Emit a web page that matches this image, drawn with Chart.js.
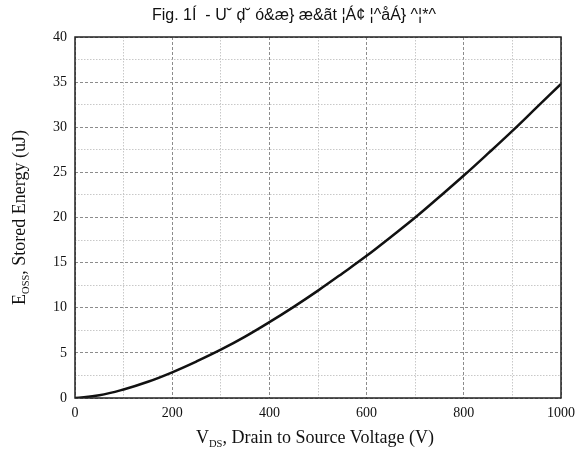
<!DOCTYPE html>
<html>
<head>
<meta charset="utf-8">
<script src="https://cdn.jsdelivr.net/npm/chart.js@4.4.1/dist/chart.umd.min.js"></script>
<style>
  html, body { margin: 0; padding: 0; background: #fff; }
  #wrap { width: 579px; height: 458px; }
</style>
</head>
<body>
<div id="wrap"><canvas id="c" width="579" height="458"></canvas></div>
<script>
// ---- data ----
const voltages = [0, 50, 100, 150, 200, 250, 300, 350, 400, 450, 500, 550, 600, 650, 700, 750, 800, 850, 900, 950, 1000];
const energy   = [0, 0.30, 0.95, 1.8, 2.85, 4.05, 5.35, 6.8, 8.4, 10.1, 11.9, 13.8, 15.75, 17.85, 20.0, 22.3, 24.65, 27.1, 29.6, 32.2, 34.8];
const xTickLabels = ['0', '200', '400', '600', '800', '1000'];
const yTickLabels = ['0', '5', '10', '15', '20', '25', '30', '35', '40'];
const chartTitle = 'Fig. 1Í  - U˘ ḑ˘ ó&æ} æ&ãt ¦Á¢ ¦^åÁ} ^¦*^';
const xTitleParts = ['V', 'DS', ', Drain to Source Voltage (V)'];
const yTitleParts = ['E', 'OSS', ', Stored Energy (uJ)'];

const points = voltages.map((v, i) => ({ x: v, y: energy[i] }));

const SERIF = '"Liberation Serif", "Times New Roman", serif';

function drawSubTitle(ctx, parts, size, subSize) {
  ctx.font = size + 'px ' + SERIF;
  const w0 = ctx.measureText(parts[0]).width;
  const w2 = ctx.measureText(parts[2]).width;
  ctx.font = subSize + 'px ' + SERIF;
  const w1 = ctx.measureText(parts[1]).width;
  const total = w0 + w1 + w2;
  let x = -total / 2;
  ctx.textAlign = 'left';
  ctx.textBaseline = 'alphabetic';
  ctx.font = size + 'px ' + SERIF;
  ctx.fillText(parts[0], x, 0); x += w0;
  ctx.font = subSize + 'px ' + SERIF;
  ctx.fillText(parts[1], x, 4); x += w1;
  ctx.font = size + 'px ' + SERIF;
  ctx.fillText(parts[2], x, 0);
}

const decor = {
  id: 'decor',
  afterDraw(chart) {
    const { ctx, chartArea: a } = chart;
    ctx.save();
    // frame
    ctx.strokeStyle = '#222';
    ctx.lineWidth = 1.5;
    ctx.strokeRect(a.left, a.top, a.right - a.left, a.bottom - a.top);
    ctx.fillStyle = '#111';
    // title
    ctx.font = '16px "Liberation Sans", Arial, sans-serif';
    ctx.textAlign = 'center';
    ctx.textBaseline = 'middle';
    ctx.fillText(chartTitle, 294, 16);
    // x title
    ctx.save();
    ctx.translate((a.left + a.right) / 2 - 3, 443);
    drawSubTitle(ctx, xTitleParts, 18, 10.5);
    ctx.restore();
    // y title
    ctx.save();
    ctx.translate(25, (a.top + a.bottom) / 2);
    ctx.rotate(-Math.PI / 2);
    drawSubTitle(ctx, yTitleParts, 18, 10.5);
    ctx.restore();
    ctx.restore();
  }
};

function isMajor(v, step) { return Math.abs(v / step - Math.round(v / step)) < 1e-6; }

new Chart(document.getElementById('c'), {
  type: 'line',
  data: {
    datasets: [{
      data: points,
      borderColor: '#111',
      borderWidth: 2.5,
      pointRadius: 0,
      fill: false,
      tension: 0.4
    }]
  },
  options: {
    responsive: false,
    animation: false,
    events: [],
    layout: { padding: { left: 0, top: 37, right: 18, bottom: 0 } },
    plugins: { legend: { display: false }, title: { display: false }, tooltip: { enabled: false } },
    scales: {
      x: {
        type: 'linear', min: 0, max: 1000,
        afterFit: s => { s.height = 60; s.paddingRight = 0; s.paddingLeft = 0; },
        ticks: {
          stepSize: 100, autoSkip: false, maxRotation: 0, padding: 7,
          color: '#111', font: { family: SERIF, size: 14 },
          callback: v => isMajor(v, 200) ? xTickLabels[Math.round(v / 200)] : ''
        },
        grid: {
          drawTicks: false,
          color: c => (c.tick && isMajor(c.tick.value, 200)) ? '#8c8c8c' : '#c8c8c8',
          lineWidth: 1
        },
        border: {
          display: false,
          dash: c => (c.tick && isMajor(c.tick.value, 200)) ? [3, 2] : [1.5, 1.5]
        }
      },
      y: {
        type: 'linear', min: 0, max: 40,
        afterFit: s => { s.width = 75; s.paddingTop = 0; s.paddingBottom = 0; },
        ticks: {
          stepSize: 2.5, autoSkip: false, padding: 8,
          color: '#111', font: { family: SERIF, size: 14 },
          callback: v => isMajor(v, 5) ? yTickLabels[Math.round(v / 5)] : ''
        },
        grid: {
          drawTicks: false,
          color: c => (c.tick && isMajor(c.tick.value, 5)) ? '#8c8c8c' : '#c8c8c8',
          lineWidth: 1
        },
        border: {
          display: false,
          dash: c => (c.tick && isMajor(c.tick.value, 5)) ? [3, 2] : [1.5, 1.5]
        }
      }
    }
  },
  plugins: [decor]
});
</script>
</body>
</html>
